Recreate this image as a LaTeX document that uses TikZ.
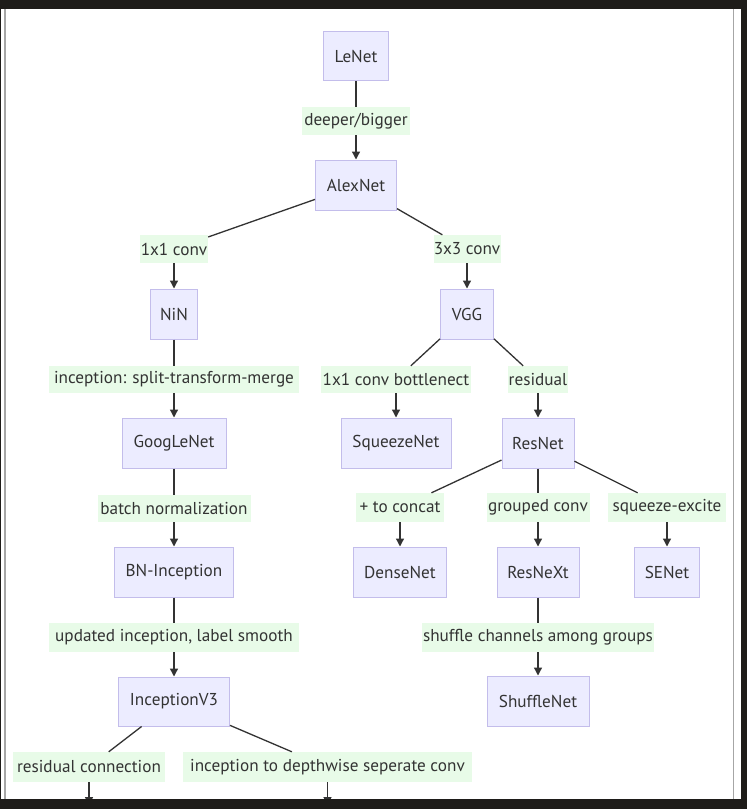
\documentclass[tikz,border=0pt]{standalone}
\usepackage{fontspec}
\setmainfont{PT Sans}
\usetikzlibrary{arrows.meta}
\definecolor{nodefill}{HTML}{ECECFF}
\definecolor{nodedraw}{HTML}{C3BDEB}
\definecolor{lblfill}{HTML}{E8FBE8}
\definecolor{ink}{HTML}{333333}
\definecolor{frame}{HTML}{1E1C19}
\tikzset{
  netbox/.style={draw=nodedraw, fill=nodefill, line width=1pt, inner sep=0pt,
    text=ink, font=\fontsize{17.2}{20}\selectfont, minimum height=50pt},
  lbl/.style={fill=lblfill, inner sep=0pt, text=ink,
    font=\fontsize{17.2}{20}\selectfont, minimum height=28pt},
  conn/.style={draw=ink, line width=1.3pt},
  arr/.style={conn, -{Triangle[length=8pt,width=8pt]}}
}
\begin{document}
\begin{tikzpicture}[x=1pt,y=-1pt]
\useasboundingbox (0,0) rectangle (747,809);
\fill[frame] (0,0) rectangle (747,809);
\fill[white] (1,9) rectangle (741,799);
\draw[gray!70, line width=1.5pt] (5,9) -- (5,799);
\draw[gray!70, line width=1.5pt] (733.5,9) -- (733.5,799);

% nodes
\node[netbox, minimum width=65pt, minimum height=49pt] (lenet) at (356,56) {LeNet};
\node[netbox, minimum width=81pt] (alexnet) at (356,185) {AlexNet};
\node[netbox, minimum width=47pt] (nin) at (174,314) {NiN};
\node[netbox, minimum width=53pt] (vgg) at (467,314) {VGG};
\node[netbox, minimum width=104pt] (googlenet) at (174,443) {GoogLeNet};
\node[netbox, minimum width=110pt] (squeezenet) at (396,443) {SqueezeNet};
\node[netbox, minimum width=72pt] (resnet) at (538,443) {ResNet};
\node[netbox, minimum width=119pt] (bninc) at (174,572) {BN-Inception};
\node[netbox, minimum width=93pt] (densenet) at (400,572) {DenseNet};
\node[netbox, minimum width=82pt] (resnext) at (538,572) {ResNeXt};
\node[netbox, minimum width=65pt] (senet) at (667,572) {SENet};
\node[netbox, minimum width=111pt, minimum height=49pt] (incv3) at (174,701.5) {InceptionV3};
\node[netbox, minimum width=102pt] (shufflenet) at (538,701) {ShuffleNet};

% edge labels
\node[lbl, minimum width=108pt] (l1) at (356,121) {deeper/bigger};
\node[lbl, minimum width=68pt] (l2) at (174,249) {1x1 conv};
\node[lbl, minimum width=67pt] (l3) at (467,249) {3x3 conv};
\node[lbl, minimum width=250pt, minimum height=27pt] (l4) at (174,379.5) {inception: split-transform-merge};
\node[lbl, minimum width=150pt, minimum height=27pt] (l5) at (396,379.5) {1x1 conv bottlenect};
\node[lbl, minimum width=60pt, minimum height=27pt] (l6) at (538,379.5) {residual};
\node[lbl, minimum width=153pt, minimum height=27pt] (l7) at (174,508.5) {batch normalization};
\node[lbl, minimum width=88pt, minimum height=29pt] (l8) at (400,507.5) {+ to concat};
\node[lbl, minimum width=103pt, minimum height=29pt] (l9) at (538,507.5) {grouped conv};
\node[lbl, minimum width=118pt, minimum height=29pt] (l10) at (667,507.5) {squeeze-excite};
\node[lbl, minimum width=250pt, minimum height=29pt] (l11) at (174,637.5) {updated inception, label smooth};
\node[lbl, minimum width=232pt, minimum height=29pt] (l12) at (538,637.5) {shuffle channels among groups};
\node[lbl, minimum width=152pt, minimum height=30pt] (l13) at (89,767) {residual connection};
\node[lbl, minimum width=289pt, minimum height=30pt] (l14) at (327.5,767) {inception to depthwise seperate conv};

\coordinate (end13) at (89,805);
\coordinate (end14) at (327.5,805);

% connectors
\draw[conn] (lenet) -- (l1);
\draw[arr] (l1) -- (alexnet);
\draw[conn] (alexnet) -- (l2);
\draw[arr] (l2) -- (nin);
\draw[conn] (alexnet) -- (l3);
\draw[arr] (l3) -- (vgg);
\draw[conn] (nin) -- (l4);
\draw[arr] (l4) -- (googlenet);
\draw[conn] (vgg) -- (l5);
\draw[arr] (l5) -- (squeezenet);
\draw[conn] (vgg) -- (l6);
\draw[arr] (l6) -- (resnet);
\draw[conn] (googlenet) -- (l7);
\draw[arr] (l7) -- (bninc);
\draw[conn] (resnet) -- (l8);
\draw[arr] (l8) -- (densenet);
\draw[conn] (resnet) -- (l9);
\draw[arr] (l9) -- (resnext);
\draw[conn] (resnet) -- (l10);
\draw[arr] (l10) -- (senet);
\draw[conn] (bninc) -- (l11);
\draw[arr] (l11) -- (incv3);
\draw[conn] (resnext) -- (l12);
\draw[arr] (l12) -- (shufflenet);
\draw[conn] (incv3) -- (l13);
\draw[arr] (l13) -- (end13);
\draw[conn] (incv3) -- (l14);
\draw[arr] (l14) -- (end14);

% bottom dark band over the cut arrows
\fill[frame] (0,799) rectangle (747,809);
\end{tikzpicture}
\end{document}
